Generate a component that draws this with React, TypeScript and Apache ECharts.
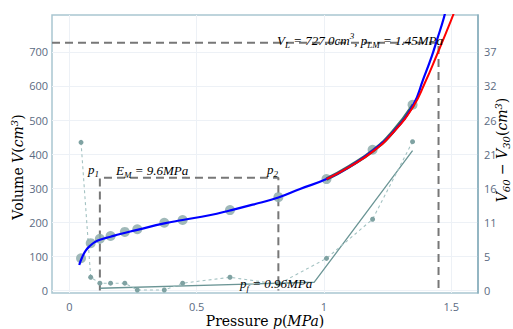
import React, { useEffect, useRef } from "react";
import * as echarts from "echarts";

// measured points
const pressure = [0.046, 0.084, 0.12, 0.162, 0.218, 0.267, 0.373, 0.445, 0.631, 0.821, 1.01, 1.191, 1.348];
const volume = [95, 139, 152, 160, 172, 180, 199, 207, 236, 274, 327, 413, 545];
const volumeDiff = [23.0, 2.07, 1.15, 1.15, 1.15, 0.1, 0.1, 1.15, 2.07, 1.0, 5.0, 11.07, 23.1];

// fitted curves
const blueFitP = [0.039, 0.05, 0.065, 0.084, 0.1, 0.12, 0.162, 0.2, 0.267, 0.373, 0.445, 0.55, 0.631, 0.72, 0.821, 0.906, 1.01, 1.1, 1.194, 1.27, 1.351, 1.389, 1.423, 1.444, 1.471, 1.48];
const blueFitV = [75, 97, 118, 133, 142, 149, 158, 166, 178, 197, 207, 221, 235, 252, 273, 298, 327, 363, 411, 463, 545, 618, 686, 735, 800, 830];
const redFitP = [1.01, 1.1, 1.194, 1.27, 1.351, 1.397, 1.443, 1.479, 1.511, 1.525];
const redFitV = [327, 363, 409, 462, 540, 610, 690, 755, 815, 845];
const greenFitP = [1.01, 1.1, 1.194, 1.27, 1.351];
const greenFitV = [327, 364, 411, 465, 545];
const diffFitP = [0.12, 0.962, 1.348];
const diffFitV = [0.37, 1.3, 21.7];

// reference levels
const VL = 727;
const pLM = 1.45;
const p1 = 0.12;
const p2 = 0.821;
const emLevel = 331;

// ticks
const xTicks = [0, 0.5, 1, 1.5];
const yTicks = [0, 100, 200, 300, 400, 500, 600, 700];
const rightScale = 0.0529;
const rightTicks = yTicks.map((v) => v * rightScale);

const X_MIN = -0.068;
const X_MAX = 1.605;
const Y_MIN = -7;
const Y_MAX = 808;

const pairs = (xs: number[], ys: number[]) => xs.map((x, i) => [x, ys[i]]);

const tickColor = "#5b6b82";
const titleColor = "#34405a";
const annColor = "#474747";

const ann = (size: number) => ({
  i: { fontFamily: "Liberation Serif", fontStyle: "italic", fontSize: size, color: annColor, lineHeight: 18, verticalAlign: "middle" },
  s: { fontFamily: "Liberation Serif", fontStyle: "italic", fontSize: size - 4, color: annColor, lineHeight: 10, verticalAlign: "bottom" },
  u: { fontFamily: "Liberation Serif", fontStyle: "italic", fontSize: size - 4, color: annColor, lineHeight: 10, verticalAlign: "top" },
});

const ttl = () => ({
  n: { fontFamily: "DejaVu Serif", fontSize: 14, color: titleColor, lineHeight: 18, verticalAlign: "middle" },
  i: { fontFamily: "DejaVu Serif", fontStyle: "italic", fontSize: 14, color: titleColor, lineHeight: 18, verticalAlign: "middle" },
  u: { fontFamily: "DejaVu Serif", fontStyle: "italic", fontSize: 10, color: titleColor, lineHeight: 10, verticalAlign: "top" },
  s: { fontFamily: "DejaVu Serif", fontStyle: "italic", fontSize: 10, color: titleColor, lineHeight: 10, verticalAlign: "bottom" },
});

export default function App() {
  const ref = useRef<HTMLDivElement>(null);
  useEffect(() => {
    if (!ref.current) return;
    const chart = echarts.init(ref.current, null, { renderer: "svg" });
    const dashed = { color: "#777", width: 2, type: [8, 5] as any };
    chart.setOption({
      animation: false,
      backgroundColor: "#fff",
      grid: { left: 52, right: 35, top: 15, bottom: 36, show: true, borderColor: "#a9c6d1", borderWidth: 1.5, backgroundColor: "#fff" },
      xAxis: {
        type: "value",
        min: X_MIN,
        max: X_MAX,
        axisLine: { show: false },
        axisTick: { show: false, customValues: xTicks },
        axisLabel: { customValues: xTicks, color: tickColor, fontSize: 11, fontFamily: "Open Sans", margin: 8, formatter: (v: number) => String(+v.toFixed(2)) },
        splitLine: { show: true, lineStyle: { color: "#edf1f6", width: 1 } },
      },
      yAxis: [
        {
          type: "value",
          min: Y_MIN,
          max: Y_MAX,
          axisLine: { show: false },
          axisTick: { show: false, customValues: yTicks },
          axisLabel: { customValues: yTicks, color: tickColor, fontSize: 11, fontFamily: "Open Sans", margin: 4 },
          splitLine: { show: true, lineStyle: { color: "#edf1f6", width: 1 } },
        },
        {
          type: "value",
          position: "right",
          min: Y_MIN * rightScale,
          max: Y_MAX * rightScale,
          axisLine: { show: true, lineStyle: { color: "#86adbb", width: 1.5 } },
          axisTick: { show: false, customValues: rightTicks },
          axisLabel: { customValues: rightTicks, color: tickColor, fontSize: 11, fontFamily: "Open Sans", margin: 6, formatter: (v: number) => String(Math.round(v)) },
          splitLine: { show: false },
        },
      ],
      series: [
        {
          type: "line",
          data: [[X_MIN, VL], [pLM, VL], [pLM, 0]],
          symbol: "none",
          lineStyle: dashed,
          z: 1,
        },
        {
          type: "line",
          data: [[p1, 0], [p1, emLevel], [p2, emLevel], [p2, 0]],
          symbol: "none",
          lineStyle: dashed,
          z: 1,
        },
        {
          type: "line",
          yAxisIndex: 1,
          data: pairs(diffFitP, diffFitV),
          symbol: "none",
          lineStyle: { color: "#6b9595", width: 1.3 },
          z: 2,
        },
        {
          type: "line",
          yAxisIndex: 1,
          data: pairs(pressure, volumeDiff),
          symbol: "circle",
          symbolSize: 5,
          itemStyle: { color: "#7fa2a2" },
          lineStyle: { color: "#a3c2c2", width: 1.1, type: [3, 3] as any },
          z: 3,
        },
        {
          type: "scatter",
          data: pairs(pressure, volume),
          symbolSize: 10,
          itemStyle: { color: "#8fadad", opacity: 0.85 },
          z: 4,
        },
        {
          type: "line",
          data: pairs(greenFitP, greenFitV),
          smooth: true,
          symbol: "none",
          lineStyle: { color: "#3f6f62", width: 3.5 },
          z: 5,
        },
        {
          type: "line",
          data: pairs(blueFitP, blueFitV),
          smooth: true,
          symbol: "none",
          lineStyle: { color: "#0000ff", width: 2.2 },
          z: 6,
        },
        {
          type: "line",
          data: pairs(redFitP, redFitV),
          smooth: true,
          symbol: "none",
          lineStyle: { color: "#ff0000", width: 2 },
          z: 7,
        },
      ],
      graphic: [
        {
          type: "text",
          right: 513 - 443,
          top: 31,
          z: 100,
          style: { text: "{i|V}{s|L}{i| = 727.0cm}{u|3}{i|, p}{s|LM}{i| = 1.45MPa}", rich: ann(13) as any },
        },
        {
          type: "text",
          left: 88,
          top: 163,
          z: 100,
          style: { text: "{i|p}{s|1}", rich: ann(13) as any },
        },
        {
          type: "text",
          left: 116,
          top: 164,
          z: 100,
          style: { text: "{i|E}{s|M}{i| = 9.6MPa}", rich: ann(13) as any },
        },
        {
          type: "text",
          left: 267,
          top: 163,
          z: 100,
          style: { text: "{i|p}{s|2}", rich: ann(13) as any },
        },
        {
          type: "text",
          left: 240,
          top: 277,
          z: 100,
          style: { text: "{i|p}{s|f}{i| = 0.96MPa}", rich: ann(13) as any },
        },
        {
          type: "text",
          x: 265,
          y: 321,
          z: 100,
          style: { text: "{n|Pressure }{i|p}{n|(}{i|MPa}{n|)}", rich: ttl() as any, align: "center", verticalAlign: "middle" },
        },
        {
          type: "text",
          x: 18,
          y: 167,
          rotation: Math.PI / 2,
          z: 100,
          style: { text: "{n|Volume }{i|V}{n|(}{i|cm}{u|3}{n|)}", rich: ttl() as any, align: "center", verticalAlign: "middle" },
        },
        {
          type: "text",
          x: 502,
          y: 150,
          rotation: Math.PI / 2,
          z: 100,
          style: { text: "{i|V}{s|60}{n| − }{i|V}{s|30}{n|(}{i|cm}{u|3}{n|)}", rich: ttl() as any, align: "center", verticalAlign: "middle" },
        },
      ],
    });
    return () => chart.dispose();
  }, []);
  return <div ref={ref} style={{ position: "fixed", left: 0, top: 0, width: 513, height: 329 }} />;
}
